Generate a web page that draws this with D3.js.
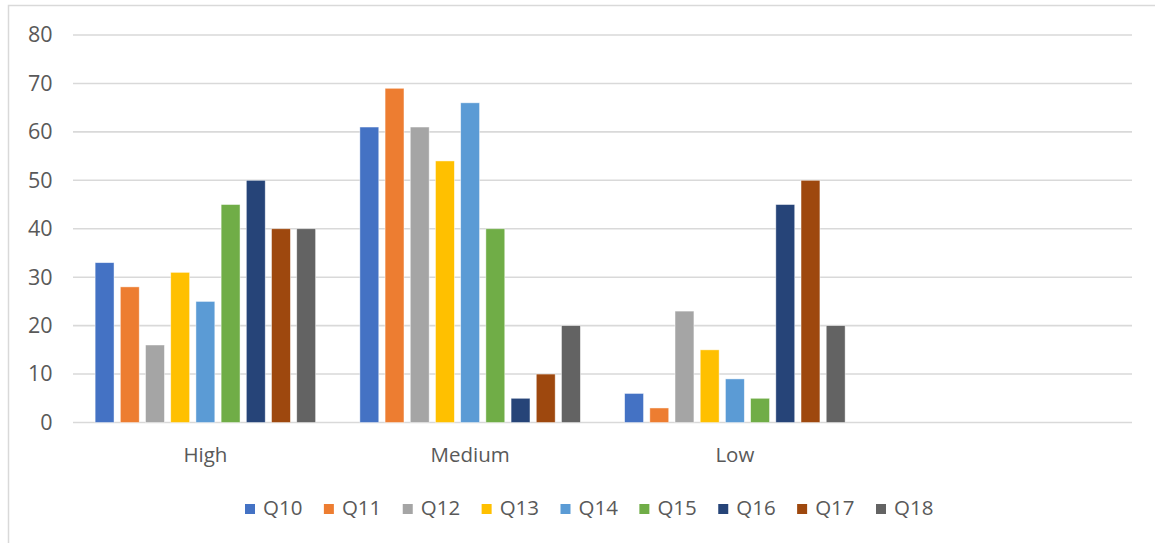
<!DOCTYPE html>
<html>
<head>
<meta charset="utf-8">
<script src="https://cdn.jsdelivr.net/npm/d3@7/dist/d3.min.js"></script>
<style>
  html, body { margin: 0; padding: 0; background: #fff; }
  svg { display: block; }
  text { font-family: "Open Sans", Lato, sans-serif; fill: #595959; }
</style>
</head>
<body>
<svg id="chart" width="1155" height="543"></svg>
<script>
const categories = ["High", "Medium", "Low", ""];
const seriesNames = ["Q10", "Q11", "Q12", "Q13", "Q14", "Q15", "Q16", "Q17", "Q18"];
const Q10 = [33, 61, 6];
const Q11 = [28, 69, 3];
const Q12 = [16, 61, 23];
const Q13 = [31, 54, 15];
const Q14 = [25, 66, 9];
const Q15 = [45, 40, 5];
const Q16 = [50, 5, 45];
const Q17 = [40, 10, 50];
const Q18 = [40, 20, 20];
const seriesValues = [Q10, Q11, Q12, Q13, Q14, Q15, Q16, Q17, Q18];
const colors = ["#4472C4", "#ED7D31", "#A5A5A5", "#FFC000", "#5B9BD5", "#70AD47", "#264478", "#9E480E", "#636363"];
const yTicks = [0, 10, 20, 30, 40, 50, 60, 70, 80];

(function () {
const FONT = "'Open Sans', Lato, sans-serif";
const svg = d3.select("#chart");

// chart frame
svg.append("rect")
  .attr("x", 8.5).attr("y", 5.5)
  .attr("width", 1160).attr("height", 545)
  .attr("fill", "none").attr("stroke", "#d9d9d9").attr("stroke-width", 1.5);

const plotL = 73, plotR = 1132, plotT = 35, plotB = 422.5;

const y = d3.scaleLinear().domain([0, 80]).range([plotB, plotT]);
const x0 = d3.scaleBand().domain(categories).range([plotL, plotR]).paddingInner(0).paddingOuter(0);
const bw = x0.bandwidth();
const groupW = 226.8;
const x1 = d3.scaleBand().domain(seriesNames)
  .range([bw / 2 - groupW / 2, bw / 2 + groupW / 2])
  .paddingInner(0.25).paddingOuter(0.125);

// gridlines
svg.append("g").selectAll("line").data(yTicks).join("line")
  .attr("x1", plotL).attr("x2", plotR)
  .attr("y1", d => y(d)).attr("y2", d => y(d))
  .attr("stroke", "#d9d9d9").attr("stroke-width", 1.6);

// y axis labels
const yAxis = d3.axisLeft(y).tickValues(yTicks).tickSize(0).tickPadding(0);
const yg = svg.append("g").attr("transform", `translate(${plotL - 20.5},0)`).call(yAxis);
yg.select(".domain").remove();
yg.selectAll("text").style("font-size", "21.5px").attr("fill", "#595959")
  .style("font-family", FONT);

// bars
const groups = svg.append("g").selectAll("g")
  .data(categories.slice(0, 3))
  .join("g")
  .attr("transform", d => `translate(${x0(d)},0)`);

groups.selectAll("rect")
  .data((c, ci) => seriesNames.map((s, si) => ({ s, si, v: seriesValues[si][ci] })))
  .join("rect")
  .attr("x", d => x1(d.s))
  .attr("width", x1.bandwidth())
  .attr("y", d => y(d.v))
  .attr("height", d => y(0) - y(d.v))
  .attr("fill", d => colors[d.si])
  .attr("stroke", "#ffffff").attr("stroke-opacity", 0.6).attr("stroke-width", 0.75);

// x axis labels
const xAxis = d3.axisBottom(x0).tickSize(0).tickPadding(0);
const xg = svg.append("g").attr("transform", `translate(0,${plotB})`).call(xAxis);
xg.select(".domain").remove();
xg.selectAll("text").style("font-size", "20.5px").attr("fill", "#595959")
  .style("font-family", FONT).attr("y", 39.5).attr("dy", null);

// legend
const legendX = d3.scaleLinear().domain([0, seriesNames.length - 1]).range([245, 876]);
const lg = svg.append("g").selectAll("g").data(seriesNames).join("g")
  .attr("transform", (d, i) => `translate(${legendX(i)},509)`);
lg.append("rect").attr("x", 0).attr("y", -5).attr("width", 10).attr("height", 10)
  .attr("fill", (d, i) => colors[i]);
lg.append("text").attr("x", 18).attr("y", 5.5)
  .style("font-size", "20.5px").style("font-family", FONT).text(d => d);
})();
</script>
</body>
</html>
